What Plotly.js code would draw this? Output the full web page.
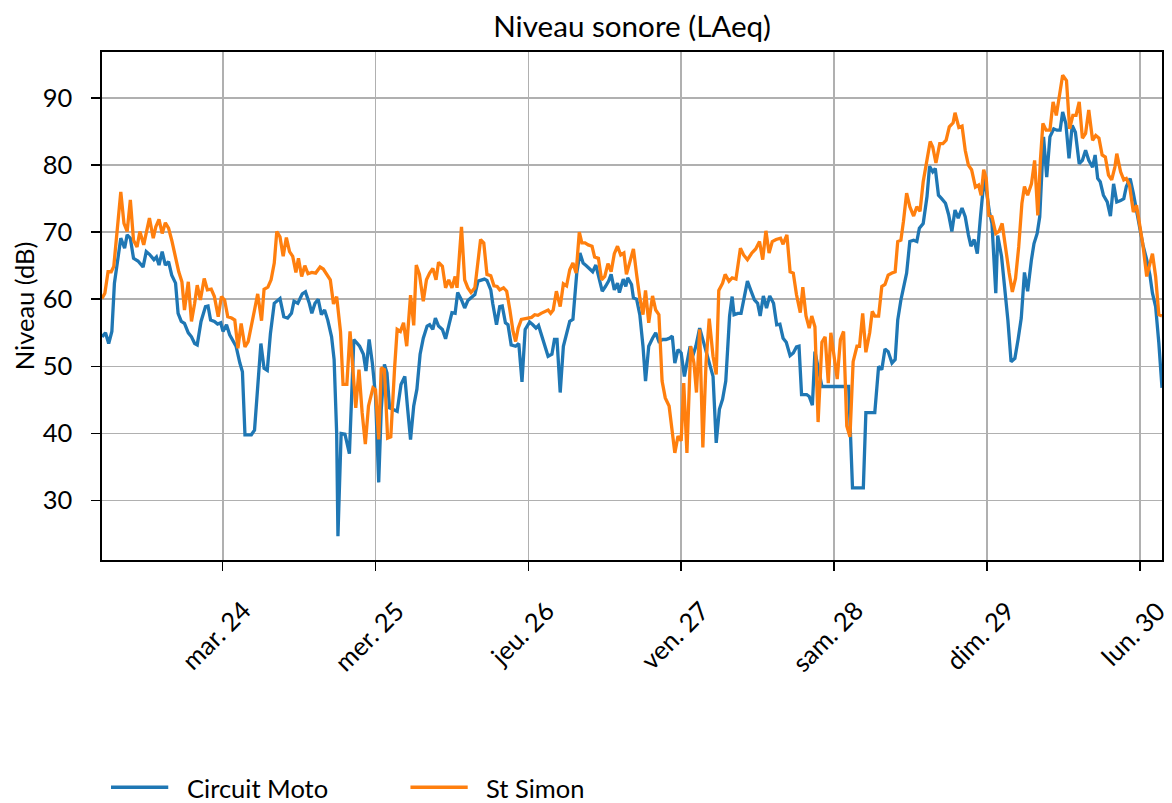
<!DOCTYPE html>
<html>
<head>
<meta charset="utf-8">
<script src="https://cdn.plot.ly/plotly-3.0.1.min.js"></script>
<style>
  html, body { margin: 0; padding: 0; background: #ffffff; }
  #chart { width: 1172px; height: 803px; }
</style>
</head>
<body>
<div id="chart"></div>
<script>
// Hours since 2020-03-23 00:00 and LAeq values (dB)
const blueHours = [5.05,5.6,6.1,6.6,7.0,8.0,8.6,9.0,9.5,10.0,10.7,11.5,12.0,12.5,13.2,13.6,14.0,14.5,15.0,15.5,16.0,16.6,17.0,17.5,18.0,18.6,19.1,19.6,20.0,20.6,21.3,21.7,22.1,22.7,23.2,23.7,24.05,24.6,25.1,25.6,26.1,26.7,27.1,27.5,28.5,29.0,30.0,30.5,31.0,31.5,32.1,33.0,33.6,34.2,34.8,35.2,35.8,36.5,37.0,37.6,38.0,38.5,39.0,39.5,40.0,40.5,41.1,41.5,41.9,42.1,42.6,43.2,43.9,44.6,45.5,46.1,46.5,47.0,47.5,48.0,48.5,48.9,49.4,49.8,50.2,50.7,51.4,52.0,52.6,53.0,53.5,54.0,54.5,55.0,55.5,56.1,56.5,57.0,57.4,57.9,58.5,59.0,59.5,60.0,60.5,60.9,61.5,62.0,62.5,63.0,63.6,64.1,64.6,65.1,65.5,66.1,66.4,67.0,67.5,67.9,68.4,68.8,69.3,70.0,70.5,71.0,71.5,72.2,72.7,73.2,73.6,74.1,74.6,75.1,75.7,76.1,76.5,77.0,77.5,78.0,78.5,79.0,79.6,80.1,80.6,81.1,81.7,82.1,82.6,83.1,83.6,84.1,84.6,85.0,85.5,86.0,86.3,86.9,87.3,87.6,88.2,88.5,89.0,89.5,90.0,90.4,90.9,91.5,92.0,92.5,93.1,93.6,94.2,94.6,95.0,95.5,96.0,96.5,97.0,97.4,97.8,98.3,98.9,99.4,99.9,100.4,101.0,101.5,102.0,102.5,103.0,103.6,104.0,104.3,104.9,105.4,105.9,106.4,106.9,107.5,108.0,108.4,108.9,109.4,109.9,110.5,111.0,111.5,112.0,112.5,113.1,113.6,114.1,114.5,114.9,115.7,116.1,116.6,117.0,118.1,122.3,122.9,124.6,125.0,126.4,127.0,127.5,128.0,128.5,129.1,129.6,130.0,130.5,131.0,131.4,131.9,132.5,133.0,133.4,134.0,134.6,135.0,135.5,135.9,136.4,136.9,137.5,138.0,138.5,139.0,139.5,140.1,140.6,141.1,141.5,142.0,142.5,143.0,143.6,144.4,144.8,145.4,145.7,146.3,146.8,147.3,147.8,148.4,148.9,149.4,149.9,150.4,151.0,151.4,151.9,152.3,152.9,153.4,153.9,154.5,155.0,155.5,155.9,156.4,156.9,157.4,157.9,158.5,159.0,159.5,160.0,160.6,161.0,161.4,161.8,162.3,162.9,163.4,163.9,164.4,165.0,165.5,165.9,166.5,167.0,167.5,168.0,168.5,169.1,169.6,170.0,170.5,171.0,171.5];
const blueValues = [54.4,55.0,53.4,55.2,62.4,69.1,67.6,69.6,69.1,66.1,65.7,64.8,67.1,66.7,65.9,66.3,65.1,67.1,65.1,65.6,63.6,62.4,57.9,56.7,56.4,55.0,54.4,53.4,53.2,56.7,58.9,59.0,56.9,56.7,56.3,56.5,55.2,56.2,54.7,53.8,53.0,50.5,49.2,39.8,39.8,40.5,53.4,49.7,49.4,54.9,59.4,60.1,57.4,57.2,57.9,59.7,59.4,60.8,61.1,59.4,57.9,59.4,60.0,57.7,58.4,56.9,54.4,51.0,40.0,24.7,40.0,39.9,37.0,54.0,53.0,51.8,49.3,54.0,50.5,45.6,32.7,43.6,50.3,49.0,43.8,43.6,43.3,47.3,48.5,44.1,39.1,44.1,46.6,51.8,54.2,56.0,56.2,55.5,57.2,56.0,55.5,54.1,56.2,58.0,57.9,61.0,59.9,58.7,59.8,60.2,60.7,62.7,62.8,63.0,62.8,61.4,59.4,56.2,58.9,59.0,56.5,56.2,53.2,53.0,53.4,47.7,55.5,56.6,56.2,55.7,56.1,54.5,53.0,51.5,51.8,54.0,54.0,46.1,53.0,54.7,56.7,57.0,63.9,66.9,65.4,65.0,64.5,64.1,65.1,62.9,61.2,61.9,62.7,63.7,61.4,62.4,61.0,63.0,61.9,63.2,62.2,60.2,60.0,57.7,53.0,47.8,53.0,54.2,55.0,53.7,54.0,54.0,54.2,54.5,50.5,52.5,52.0,48.5,51.0,53.0,51.5,53.0,55.7,54.0,52.0,50.5,48.5,38.6,43.6,45.1,47.8,57.5,60.4,57.7,57.9,57.9,60.4,62.7,61.4,59.9,59.4,57.5,60.5,58.7,60.5,59.4,56.2,56.3,54.2,53.6,51.6,52.0,52.9,53.0,45.8,45.8,45.5,44.2,52.2,47.0,47.0,31.9,31.9,43.1,43.1,50.0,49.5,52.6,52.2,50.5,51.0,56.9,59.9,61.9,63.9,68.6,68.8,68.6,70.6,71.3,75.3,79.8,79.0,79.5,75.5,75.0,74.3,72.6,70.1,73.3,72.1,73.6,72.3,69.6,67.9,68.9,66.8,72.3,78.3,73.0,71.3,60.9,69.5,66.4,61.9,56.9,50.7,51.2,54.0,57.2,64.0,61.2,65.9,68.3,69.8,72.3,84.2,78.2,84.2,85.4,85.2,85.2,87.9,86.2,81.0,85.9,84.9,80.2,80.7,82.2,80.7,79.7,81.5,78.0,77.5,75.5,74.5,72.4,77.2,74.5,74.7,75.0,76.8,78.0,75.8,73.3,70.8,68.1,65.9,63.6,60.9,58.9,53.5,46.8];

const orangeHours = [5.05,5.5,6.0,6.5,6.9,8.0,8.5,9.0,9.5,10.0,10.55,11.0,11.6,12.1,12.5,13.1,13.5,14.0,14.5,15.0,15.5,16.0,16.6,17.1,17.6,18.0,18.6,19.1,19.6,20.0,20.5,21.1,21.6,22.2,22.7,23.3,23.8,24.3,24.8,25.4,25.9,26.4,26.9,27.5,28.0,28.5,29.0,29.5,30.1,30.5,31.1,31.6,32.1,32.5,33.0,33.5,34.0,34.5,35.0,35.5,35.9,36.4,36.9,37.4,38.0,38.6,39.3,39.8,40.3,40.9,41.4,41.9,42.5,42.9,43.5,44.0,44.9,45.4,45.9,46.4,46.9,47.6,48.0,48.5,48.9,49.4,49.9,50.4,51.0,51.4,51.9,52.4,52.9,53.5,54.0,54.4,54.9,55.5,56.0,56.5,57.0,57.5,57.9,58.5,59.0,59.5,60.0,60.5,60.8,61.5,62.0,62.5,63.0,63.6,64.0,64.5,65.0,65.5,66.1,66.6,67.1,67.5,68.1,68.6,69.1,69.6,70.0,70.4,70.9,71.4,71.9,72.5,73.0,73.5,74.0,74.6,75.1,75.5,75.9,76.4,77.0,77.5,78.0,78.5,79.0,79.5,80.0,80.4,80.9,81.4,82.0,82.4,83.0,83.5,84.0,84.5,85.0,85.5,86.0,86.5,87.0,87.4,87.9,88.5,89.0,89.5,90.0,90.4,90.9,91.5,92.0,92.5,93.0,93.5,94.1,94.6,95.0,95.5,96.0,96.4,96.9,97.5,98.0,98.4,98.9,99.4,99.9,100.4,101.0,101.5,101.9,102.5,102.9,103.5,104.0,104.6,105.3,105.8,106.4,107.1,107.7,108.3,108.8,109.3,109.8,110.3,110.9,111.6,112.0,112.6,113.1,113.6,114.1,114.7,115.1,115.6,116.1,116.5,117.0,117.5,118.1,118.6,119.1,119.5,120.0,120.5,121.0,121.5,122.0,122.5,123.0,123.6,124.0,124.5,125.0,125.6,126.0,126.4,127.0,127.5,128.0,128.5,129.1,129.6,130.0,130.5,130.9,131.4,131.9,132.5,133.0,133.5,134.0,134.6,135.1,135.5,136.0,136.6,137.1,137.6,138.1,138.7,139.0,139.6,140.1,140.6,141.1,141.6,142.2,142.7,143.1,143.5,143.9,144.3,144.8,145.4,145.9,146.4,146.9,147.5,148.0,148.5,149.0,149.5,149.9,150.4,151.0,151.5,152.0,152.4,152.8,153.3,153.9,154.4,154.9,155.4,155.9,156.5,157.0,157.5,158.0,158.5,159.0,159.5,160.0,160.6,161.1,161.6,162.1,162.6,163.1,163.6,164.1,164.4,165.0,165.5,165.9,166.4,167.0,167.5,168.0,168.5,169.1,169.6,170.0,170.5,171.0,171.5];
const orangeValues = [60.1,60.9,64.1,64.1,64.9,76.0,71.3,70.1,74.8,68.8,67.8,70.1,68.1,70.6,72.1,69.1,70.8,71.9,69.8,71.4,70.6,68.8,65.9,64.1,62.6,58.4,62.6,56.7,59.4,62.1,59.9,63.1,61.4,61.5,60.4,57.4,60.4,59.9,57.4,57.2,56.9,52.7,56.4,52.9,53.7,56.4,58.4,60.8,56.8,61.5,61.8,62.9,65.4,70.1,69.3,66.4,69.2,67.1,66.4,64.0,66.1,63.4,65.0,63.8,64.0,63.9,64.8,64.5,63.8,62.9,59.3,60.4,55.2,47.3,47.3,55.2,43.8,49.5,43.1,38.4,44.1,46.8,46.5,39.1,49.8,49.5,39.3,39.5,49.8,55.5,55.2,56.5,53.0,60.6,56.1,65.1,63.7,59.7,62.9,63.9,64.6,62.9,65.5,64.9,61.7,62.9,61.7,63.4,61.7,70.8,62.9,61.7,61.0,61.7,64.9,68.9,68.4,63.7,63.5,62.0,61.9,61.4,61.7,61.2,58.4,55.2,53.7,55.7,57.0,57.1,57.2,57.3,57.7,57.6,57.9,58.2,58.4,57.9,58.4,61.2,58.9,62.3,62.0,64.4,65.4,63.9,70.0,68.4,68.4,68.1,67.9,66.3,66.1,62.9,63.4,65.3,64.1,66.8,67.9,66.6,66.9,63.7,65.6,67.5,63.7,60.2,57.7,61.3,56.5,60.5,58.4,57.7,47.8,45.3,44.1,39.6,37.1,39.6,38.9,47.5,37.1,53.0,50.5,46.1,55.5,37.9,50.5,57.1,51.5,48.8,61.3,62.4,63.7,62.7,63.2,63.0,67.6,66.6,65.9,66.9,67.5,68.6,65.9,70.2,66.9,68.6,68.9,69.1,68.2,69.6,64.1,63.9,60.7,58.0,61.8,57.5,55.7,57.5,55.9,41.7,53.6,54.4,47.5,55.0,51.7,48.1,54.0,55.2,41.1,39.5,50.7,53.0,53.0,57.9,52.1,55.0,58.2,57.5,57.5,61.9,62.2,63.6,63.9,64.1,68.6,68.8,71.6,75.8,73.8,72.4,73.8,73.1,77.5,80.7,83.5,82.7,80.3,83.2,83.2,83.7,85.7,86.3,87.8,85.6,85.8,82.2,80.0,79.3,76.7,77.0,75.5,79.3,78.0,72.5,72.3,69.8,70.1,71.3,67.8,63.9,61.1,63.1,67.8,74.3,76.8,75.5,77.2,80.7,72.5,80.7,86.2,85.2,85.2,89.4,87.4,90.6,93.4,92.6,85.4,87.4,87.4,89.4,84.0,84.7,88.2,83.7,84.4,84.0,81.5,81.2,78.5,77.8,79.7,81.7,79.0,77.8,78.0,77.0,73.0,74.0,71.1,68.1,63.4,65.6,66.8,63.4,57.7,57.5];

const seriesNames = ["Circuit Moto", "St Simon"];
const seriesColors = ["#1f77b4", "#ff7f0e"];
const dayTicks = ["2020-03-24", "2020-03-25", "2020-03-26", "2020-03-27", "2020-03-28", "2020-03-29", "2020-03-30"];
const dayLabels = ["mar. 24", "mer. 25", "jeu. 26", "ven. 27", "sam. 28", "dim. 29", "lun. 30"];
const yTicks = [30, 40, 50, 60, 70, 80, 90];

const T0 = Date.UTC(2020, 2, 23, 0, 0, 0);
function toDate(h) {
  return new Date(T0 + h * 3600e3).toISOString().slice(0, 19).replace('T', ' ');
}

const FONT = 'Lato, "Open Sans", "DejaVu Sans", sans-serif';
const FS = 25.5;

const traces = [
  { x: blueHours.map(toDate), y: blueValues, name: seriesNames[0] },
  { x: orangeHours.map(toDate), y: orangeValues, name: seriesNames[1] }
].map((t, i) => Object.assign(t, {
  type: 'scatter', mode: 'lines',
  line: { color: seriesColors[i], width: 3.3 },
  showlegend: false, hoverinfo: 'x+y+name'
}));

const xStart = toDate(Math.min(blueHours[0], orangeHours[0]));
const xEnd = toDate(Math.max(blueHours[blueHours.length - 1], orangeHours[orangeHours.length - 1]));

const annotations = dayTicks.map((d, i) => ({
  x: d, xref: 'x', y: -0.066, yref: 'paper',
  text: dayLabels[i], showarrow: false, textangle: -45,
  xanchor: 'center', yanchor: 'top', xshift: -7, borderpad: 0,
  font: { family: FONT, size: FS, color: '#000' }
}));

// manual legend (long line samples like the reference)
const legendX = [0.0085, 0.291];
const shapes = [];
seriesNames.forEach((n, i) => {
  shapes.push({
    type: 'line', xref: 'paper', yref: 'paper',
    x0: legendX[i], x1: legendX[i] + 0.054, y0: -0.4474, y1: -0.4474,
    line: { color: seriesColors[i], width: 3.5 }
  });
  annotations.push({
    x: legendX[i] + 0.0703, xref: 'paper', y: -0.449, yref: 'paper',
    text: n, showarrow: false, xanchor: 'left', yanchor: 'middle',
    height: 26, borderpad: 0, valign: 'middle',
    font: { family: FONT, size: FS, color: '#000' }
  });
});

const layout = {
  width: 1172, height: 803,
  margin: { l: 102, r: 10, t: 52, b: 243, pad: 0 },
  paper_bgcolor: '#ffffff', plot_bgcolor: '#ffffff',
  font: { family: FONT, size: FS, color: '#000' },
  title: {
    text: 'Niveau sonore (LAeq)',
    font: { family: FONT, size: 29.6, color: '#000' },
    x: 0.5393, xanchor: 'center', xref: 'container',
    y: 0.967, yanchor: 'middle', yref: 'container'
  },
  xaxis: {
    type: 'date', range: [xStart, xEnd],
    tickmode: 'array', tickvals: dayTicks, showticklabels: false,
    ticks: 'outside', ticklen: 9, tickwidth: 1.6, tickcolor: '#000',
    showgrid: true, gridcolor: '#b0b0b0', gridwidth: 1.7,
    showline: true, linecolor: '#000', linewidth: 1.6, mirror: true,
    zeroline: false
  },
  yaxis: {
    range: [21.14, 96.85],
    tickmode: 'array', tickvals: yTicks,
    ticks: 'outside', ticklen: 9, tickwidth: 1.6, tickcolor: '#000',
    ticklabelstandoff: 14,
    tickfont: { family: FONT, size: FS, color: '#000' },
    showgrid: true, gridcolor: '#b0b0b0', gridwidth: 1.7,
    showline: true, linecolor: '#000', linewidth: 1.6, mirror: true,
    zeroline: false,
    title: { text: 'Niveau (dB)', font: { family: FONT, size: FS, color: '#000' }, standoff: 1 }
  },
  annotations: annotations,
  shapes: shapes,
  showlegend: false
};

Plotly.newPlot('chart', traces, layout, { displayModeBar: false, staticPlot: true });
</script>
</body>
</html>
